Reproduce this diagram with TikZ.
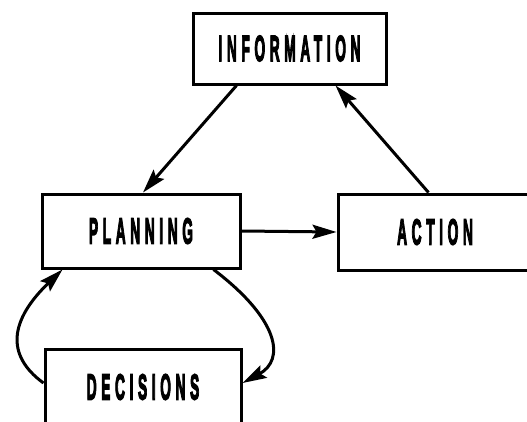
\documentclass[tikz,border=0pt]{standalone}
\usepackage{fontspec}
\usepackage{graphicx}
\newfontfamily\lblfont{Liberation Sans Bold}[LetterSpace=34,FakeBold=5]
\newcommand{\lbltext}[1]{\scalebox{0.38}[1]{\lblfont\fontsize{36}{37}\selectfont #1}}
\usetikzlibrary{arrows.meta}
\begin{document}
\begin{tikzpicture}[x=1pt,y=-1pt,
  box/.style={draw,line width=3pt,rectangle,inner sep=0pt},
  link/.style={line width=3pt,-{Stealth[length=24pt,width=14pt,inset=4pt]}}]
\useasboundingbox (0,0) rectangle (527,421);
\clip (0,0) rectangle (527,421);
\node[box,minimum width=193pt,minimum height=71pt] (info) at (289.5,48.5) {\lbltext{INFORMATION}};
\node[box,minimum width=198pt,minimum height=74pt] (plan) at (141,231) {\lbltext{PLANNING}};
\node[box,minimum width=194pt,minimum height=76pt] (act) at (435,232) {\lbltext{ACTION}};
\node[box,minimum width=196pt,minimum height=75pt] (dec) at (143,387) {\lbltext{DECISIONS}};
\draw[link] ([xshift=45pt]info.south west) -- ([xshift=2pt]plan.north);
\draw[link] ([xshift=92pt]act.north west) -- ([xshift=144pt]info.south west);
\draw[link] (plan.east) -- (act.west);
\draw[link] ([yshift=4pt]dec.west) .. controls (5,355) and (10,320) .. ([xshift=22pt]plan.south west);
\draw[link] ([xshift=173pt]plan.south west) .. controls (280,320) and (285,360) .. ([yshift=4pt]dec.east);
\end{tikzpicture}
\end{document}
